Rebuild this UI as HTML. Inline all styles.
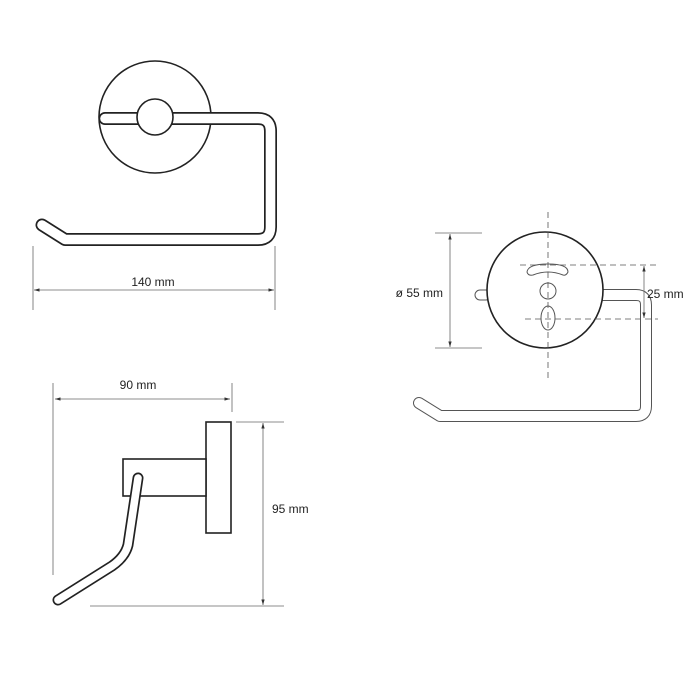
<!DOCTYPE html>
<html><head><style>html,body{margin:0;background:#fff}svg{display:block}</style></head><body>
<svg width="700" height="700" viewBox="0 0 700 700" xmlns="http://www.w3.org/2000/svg" font-family="Liberation Sans, sans-serif">
<defs>
<marker id="a" viewBox="0 0 10 10" refX="10" refY="5" markerWidth="7" markerHeight="7" orient="auto-start-reverse"><path d="M0,2 L10,5 L0,8 z" fill="#333"/></marker>
</defs>
<!-- Top view -->
<circle cx="155" cy="117" r="56" fill="#fff" stroke="#222" stroke-width="1.6"/>
<path d="M105,118.5 H258 Q270.5,118.5 270.5,131 V227 Q270.5,239.5 258,239.5 H65 L42,225" fill="none" stroke="#222" stroke-width="13" stroke-linecap="round" stroke-linejoin="round"/>
<path d="M105,118.5 H258 Q270.5,118.5 270.5,131 V227 Q270.5,239.5 258,239.5 H65 L42,225" fill="none" stroke="#fff" stroke-width="9.6" stroke-linecap="round" stroke-linejoin="round"/>
<circle cx="155" cy="117" r="18" fill="#fff" stroke="#222" stroke-width="1.6"/>
<g stroke="#666" stroke-width="0.8" fill="none">
<line x1="33" y1="246" x2="33" y2="310"/><line x1="275" y1="246" x2="275" y2="310"/>
<line x1="34" y1="290" x2="274" y2="290" marker-start="url(#a)" marker-end="url(#a)"/>
</g>
<text x="153" y="286" font-size="12" text-anchor="middle" fill="#222">140 mm</text>

<!-- Right view -->
<g fill="none" stroke="#555" stroke-width="1">
<path d="M600,295 H636 Q646,295 646,305 V406 Q646,416 636,416 H440 L419,403" stroke-width="12" stroke-linecap="round" stroke-linejoin="round"/>
</g>
<path d="M600,295 H636 Q646,295 646,305 V406 Q646,416 636,416 H440 L419,403" fill="none" stroke="#fff" stroke-width="10" stroke-linecap="round" stroke-linejoin="round"/>
<rect x="475" y="290" width="16" height="10" rx="5" fill="#fff" stroke="#555" stroke-width="1"/>
<circle cx="545" cy="290" r="58" fill="#fff" stroke="#222" stroke-width="1.6"/>
<path d="M527,272 Q528,264 548,264 Q568,264 568,272 Q566,276 563,275 Q548,269 533,275 Q528,276 527,272 z" fill="none" stroke="#555" stroke-width="1"/>
<circle cx="548" cy="291" r="8" fill="none" stroke="#555" stroke-width="1"/>
<ellipse cx="548" cy="318" rx="7" ry="12" fill="none" stroke="#555" stroke-width="1"/>
<g stroke="#555" stroke-width="0.8" stroke-dasharray="6,4" fill="none">
<line x1="548" y1="212" x2="548" y2="378"/>
<line x1="520" y1="265" x2="658" y2="265"/>
<line x1="525" y1="319" x2="658" y2="319"/>
</g>
<g stroke="#666" stroke-width="0.8" fill="none">
<line x1="435" y1="233" x2="482" y2="233"/><line x1="435" y1="348" x2="482" y2="348"/>
<line x1="450" y1="234" x2="450" y2="347" marker-start="url(#a)" marker-end="url(#a)"/>
<line x1="644" y1="266" x2="644" y2="318" marker-start="url(#a)" marker-end="url(#a)"/>
</g>
<text x="443" y="297" font-size="12" text-anchor="end" fill="#222">ø 55 mm</text>
<text x="647" y="298" font-size="12" fill="#222">25 mm</text>

<!-- Side view -->
<g stroke="#666" stroke-width="0.8" fill="none">
<line x1="53" y1="383" x2="53" y2="575"/><line x1="232" y1="383" x2="232" y2="412"/>
<line x1="55" y1="399" x2="230" y2="399" marker-start="url(#a)" marker-end="url(#a)"/>
<line x1="236" y1="422" x2="284" y2="422"/><line x1="90" y1="606" x2="284" y2="606"/>
<line x1="263" y1="423" x2="263" y2="605" marker-start="url(#a)" marker-end="url(#a)"/>
</g>
<text x="138" y="389" font-size="12" text-anchor="middle" fill="#222">90 mm</text>
<text x="272" y="513" font-size="12" fill="#222">95 mm</text>
<rect x="206" y="422" width="25" height="111" fill="#fff" stroke="#222" stroke-width="1.6"/>
<rect x="123" y="459" width="83" height="37" fill="#fff" stroke="#222" stroke-width="1.6"/>
<path d="M138,478 L128,545 Q125,557 112,566 L58,600" fill="none" stroke="#222" stroke-width="11" stroke-linecap="round" stroke-linejoin="round"/>
<path d="M138,478 L128,545 Q125,557 112,566 L58,600" fill="none" stroke="#fff" stroke-width="7.6" stroke-linecap="round" stroke-linejoin="round"/>
</svg>
</body></html>
